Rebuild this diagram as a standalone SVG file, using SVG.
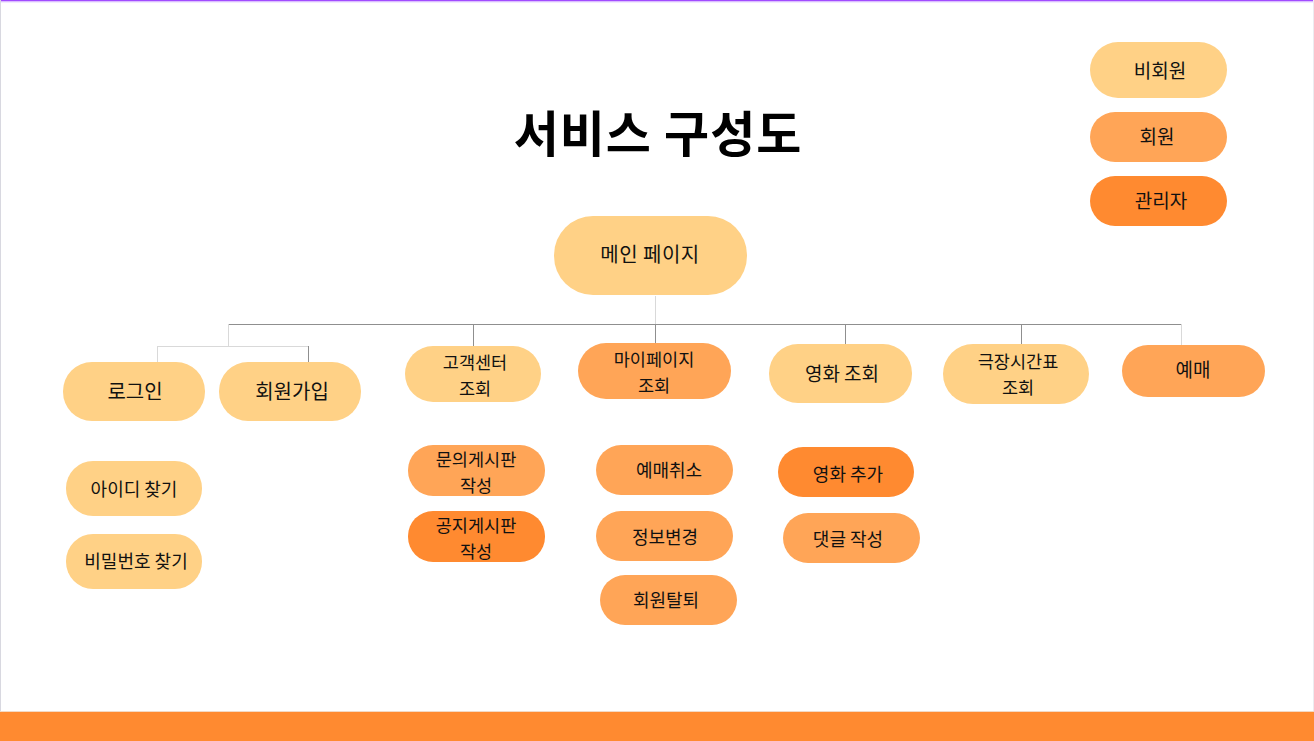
<svg xmlns="http://www.w3.org/2000/svg" width="1314" height="741" viewBox="0 0 1314 741">
<style>
.t{font-family:"Noto Sans CJK KR","Noto Sans",sans-serif;font-size:18px;fill:#111;text-anchor:middle}
.t2{font-size:17.5px}
.l1{fill:#FFD186}.l2{fill:#FFA557}.l3{fill:#FF8A30}
.cl{stroke:#8f8f8f;stroke-width:1;fill:none}
.cm{stroke:#d9d9d9;stroke-width:1;fill:none}
</style>
<rect x="0" y="0" width="1314" height="741" fill="#fff"/>
<rect x="0" y="0" width="1314" height="1.5" fill="#a24cff"/>
<rect x="0" y="1.5" width="1314" height="1" fill="#e6d6ff"/>
<rect x="0" y="0" width="1" height="741" fill="#d8d8e0"/>
<rect x="1313" y="0" width="1" height="741" fill="#ececf0"/>
<rect x="0" y="711" width="1314" height="1" fill="#f3d9c4"/>
<rect x="0" y="712" width="1314" height="29" fill="#FF8A30"/>
<text x="658" y="152" style="font-family:'Noto Sans CJK KR','Noto Sans',sans-serif;font-size:49px;font-weight:bold;fill:#000;text-anchor:middle;letter-spacing:1px">서비스 구성도</text>
<g id="connectors">
<path class="cm" d="M655.5 296V324"/>
<path class="cl" d="M228.5 324.5H1181.5"/>
<path class="cm" d="M228.5 324V346.5"/>
<path class="cm" d="M157.5 346.5H308.5"/>
<path class="cm" d="M157.5 346V362"/>
<path class="cl" d="M308.5 346V362"/>
<path class="cl" d="M473.5 324V346"/>
<path class="cl" d="M655.5 324V343"/>
<path class="cl" d="M845.5 324V344"/>
<path class="cl" d="M1021.5 324V344"/>
<path class="cm" d="M1181.5 324V345"/>
</g>
<g id="legend-guest"><rect class="l1" x="1090" y="42" width="137" height="56" rx="28"/><text class="t" x="1160" y="78" style="font-size:19px">비회원</text></g>
<g id="legend-member"><rect class="l2" x="1090" y="112" width="137" height="50" rx="25"/><text class="t" x="1157" y="144" style="font-size:19px">회원</text></g>
<g id="legend-admin"><rect class="l3" x="1090" y="176" width="137" height="50" rx="25"/><text class="t" x="1161" y="208" style="font-size:19px">관리자</text></g>
<g id="main"><rect class="l1" x="554" y="216" width="193" height="79" rx="39"/><text class="t" x="650" y="262" style="font-size:20px;letter-spacing:0.5px">메인 페이지</text></g>
<g id="login"><rect class="l1" x="63" y="362" width="142" height="59" rx="29"/><text class="t" x="135" y="399" style="font-size:20px">로그인</text></g>
<g id="signup"><rect class="l1" x="219" y="362" width="142" height="59" rx="29"/><text class="t" x="292" y="399" style="font-size:20px">회원가입</text></g>
<g id="cs"><rect class="l1" x="405" y="346" width="136" height="56" rx="28"/><text class="t t2" x="475" y="369">고객센터<tspan x="475" dy="25.5">조회</tspan></text></g>
<g id="mypage"><rect class="l2" x="578" y="343" width="153" height="56" rx="28"/><text class="t t2" x="654" y="366">마이페이지<tspan x="654" dy="25.5">조회</tspan></text></g>
<g id="movie"><rect class="l1" x="769" y="344" width="143" height="59" rx="29"/><text class="t" x="842" y="381" style="font-size:19px">영화 조회</text></g>
<g id="schedule"><rect class="l1" x="943" y="344" width="146" height="60" rx="30"/><text class="t t2" x="1018" y="368">극장시간표<tspan x="1018" dy="25.5">조회</tspan></text></g>
<g id="booking"><rect class="l2" x="1122" y="345" width="143" height="52" rx="26"/><text class="t" x="1193" y="377" style="font-size:19px">예매</text></g>
<g id="findid"><rect class="l1" x="66" y="461" width="136" height="55" rx="27"/><text class="t" x="134" y="496">아이디 찾기</text></g>
<g id="findpw"><rect class="l1" x="66" y="534" width="136" height="55" rx="27"/><text class="t" x="136" y="568">비밀번호 찾기</text></g>
<g id="inquiry"><rect class="l2" x="408" y="445" width="137" height="51" rx="25"/><text class="t t2" x="476" y="466">문의게시판<tspan x="476" dy="25.5">작성</tspan></text></g>
<g id="notice"><rect class="l3" x="408" y="511" width="137" height="51" rx="25"/><text class="t t2" x="476" y="532">공지게시판<tspan x="476" dy="25.5">작성</tspan></text></g>
<g id="cancel"><rect class="l2" x="596" y="445" width="137" height="50" rx="25"/><text class="t" x="669" y="477">예매취소</text></g>
<g id="edit"><rect class="l2" x="596" y="511" width="137" height="50" rx="25"/><text class="t" x="665" y="544">정보변경</text></g>
<g id="withdraw"><rect class="l2" x="600" y="575" width="137" height="50" rx="25"/><text class="t" x="666" y="607">회원탈퇴</text></g>
<g id="addmovie"><rect class="l3" x="778" y="447" width="136" height="50" rx="25"/><text class="t" x="848" y="481">영화 추가</text></g>
<g id="comment"><rect class="l2" x="783" y="513" width="137" height="50" rx="25"/><text class="t" x="848" y="546">댓글 작성</text></g>
</svg>
